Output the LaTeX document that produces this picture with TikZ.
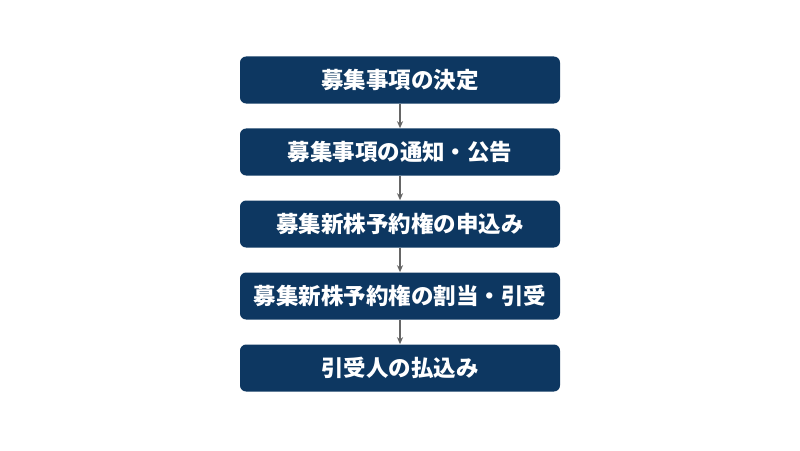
\documentclass[tikz,border=0pt]{standalone}
\usepackage{fontspec}
\newfontfamily\cjk{Noto Sans CJK JP}
\usetikzlibrary{arrows.meta}
\definecolor{navy}{HTML}{0D3761}
\definecolor{arrowgray}{HTML}{666666}
\begin{document}
\begin{tikzpicture}[
		stepbox/.style={fill=navy,rounded corners=3.5pt,minimum width=6.4cm,minimum height=0.94cm,
			text=white,font=\cjk\bfseries\fontsize{12.8}{15}\selectfont,inner sep=0pt},
		flow/.style={-{Stealth[length=4pt,width=3.5pt]},arrowgray,line width=0.6pt}]
		\useasboundingbox (0,0) rectangle (16,9);
		\node[stepbox] (kettei) at (8,7.4) {募集事項の決定};
		\node[stepbox] (tsuchi) at (8,5.96) {募集事項の通知・公告};
		\node[stepbox] (moushikomi) at (8,4.52) {募集新株予約権の申込み};
		\node[stepbox] (wariate) at (8,3.08) {募集新株予約権の割当・引受};
		\node[stepbox] (haraikomi) at (8,1.64) {引受人の払込み};
		\draw[flow] (kettei) -- (tsuchi);
		\draw[flow] (tsuchi) -- (moushikomi);
		\draw[flow] (moushikomi) -- (wariate);
		\draw[flow] (wariate) -- (haraikomi);
	\end{tikzpicture}
\end{document}
